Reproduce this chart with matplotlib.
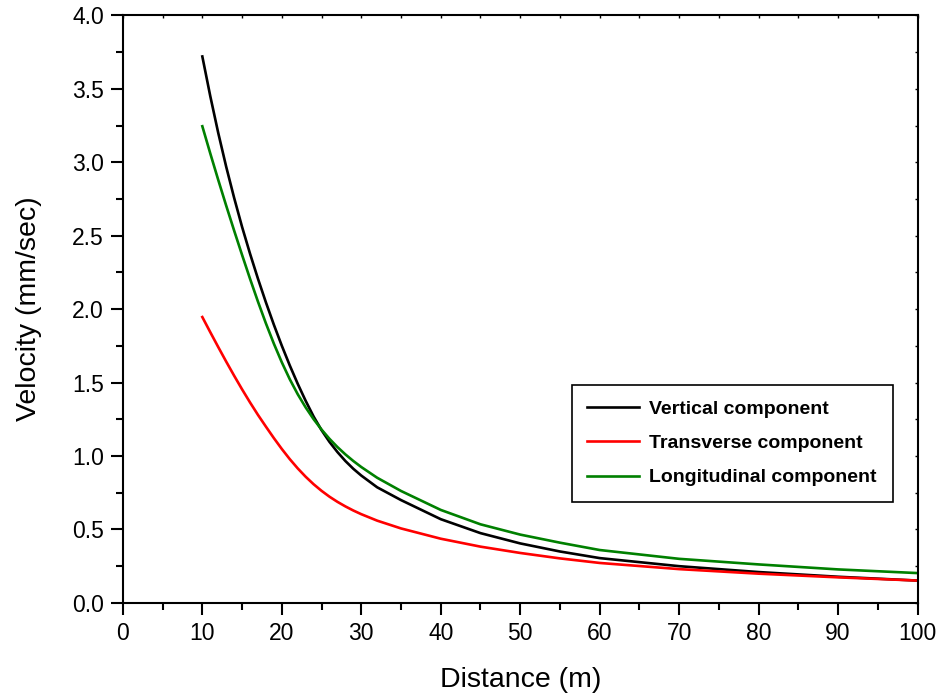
import matplotlib
matplotlib.use("Agg")
import matplotlib.pyplot as plt
from matplotlib.ticker import MultipleLocator, FormatStrFormatter

plt.rcParams['font.family'] = ['Liberation Sans', 'DejaVu Sans']

distance = [10, 11, 12, 13, 14, 15, 16, 17, 18, 19, 20, 21, 22, 23, 24, 25, 26, 27, 28, 29, 30,
            32, 35, 40, 45, 50, 55, 60, 70, 80, 90, 100]
vertical = [3.72, 3.45, 3.20, 2.97, 2.758, 2.56, 2.378, 2.207, 2.046, 1.894, 1.751, 1.617, 1.492,
            1.376, 1.269, 1.176, 1.096, 1.027, 0.966, 0.913, 0.867, 0.787, 0.700, 0.57, 0.475,
            0.405, 0.35, 0.305, 0.25, 0.21, 0.178, 0.152]
transverse = [1.946, 1.843, 1.742, 1.643, 1.547, 1.454, 1.365, 1.28, 1.20, 1.122, 1.048, 0.979,
              0.916, 0.859, 0.808, 0.763, 0.723, 0.688, 0.657, 0.629, 0.604, 0.56, 0.507, 0.437,
              0.383, 0.34, 0.303, 0.272, 0.23, 0.199, 0.174, 0.152]
longitudinal = [3.245, 3.06, 2.88, 2.705, 2.535, 2.369, 2.207, 2.051, 1.903, 1.765, 1.638, 1.523,
                1.421, 1.331, 1.251, 1.18, 1.117, 1.061, 1.011, 0.966, 0.925, 0.852, 0.762,
                0.633, 0.535, 0.465, 0.41, 0.36, 0.30, 0.262, 0.228, 0.203]

fig = plt.figure(figsize=(9.45, 6.97), dpi=100)
ax = fig.add_axes([0.130, 0.135, 0.841, 0.843])

ax.plot(distance, vertical, color='black', lw=1.9, label='Vertical component')
ax.plot(distance, transverse, color='#ff0000', lw=1.9, label='Transverse component')
ax.plot(distance, longitudinal, color='#008000', lw=1.9, label='Longitudinal component')

ax.set_xlim(0, 100)
ax.set_ylim(0, 4.0)
ax.xaxis.set_major_locator(MultipleLocator(10))
ax.xaxis.set_minor_locator(MultipleLocator(5))
ax.yaxis.set_major_locator(MultipleLocator(0.5))
ax.yaxis.set_minor_locator(MultipleLocator(0.25))
ax.yaxis.set_major_formatter(FormatStrFormatter('%.1f'))

for s in ax.spines.values():
    s.set_linewidth(1.5)

ax.tick_params(which='major', direction='out', length=8.6, width=1.5, labelsize=16.5,
               top=False, right=False, pad=5)
ax.tick_params(which='minor', direction='out', length=5, width=1.5, top=False, right=False)

# small inward ticks on top and right
ax_t = ax.secondary_xaxis('top')
ax_t.xaxis.set_major_locator(MultipleLocator(10))
ax_t.xaxis.set_minor_locator(MultipleLocator(5))
ax_t.tick_params(which='both', direction='in', length=2, width=1.0, labeltop=False)
ax_t.spines['top'].set_visible(False)
ax_r = ax.secondary_yaxis('right')
ax_r.yaxis.set_major_locator(MultipleLocator(0.5))
ax_r.yaxis.set_minor_locator(MultipleLocator(0.25))
ax_r.tick_params(which='both', direction='in', length=2, width=1.0, labelright=False)
ax_r.spines['right'].set_visible(False)

ax.set_xlabel('Distance (m)', fontsize=20.5, labelpad=16)
ax.set_ylabel('Velocity (mm/sec)', fontsize=20.5, labelpad=22)

leg = ax.legend(loc='upper left', bbox_to_anchor=(0.565, 0.371, 0.404, 0.0), mode='expand',
                fancybox=False, framealpha=1, edgecolor='black',
                prop={'weight': 'bold', 'size': 14},
                handlelength=2.65, handletextpad=0.5, borderaxespad=0, labelspacing=0.85,
                borderpad=0.8)
leg.get_frame().set_linewidth(1.2)

fig.savefig('out.png', dpi=100)
